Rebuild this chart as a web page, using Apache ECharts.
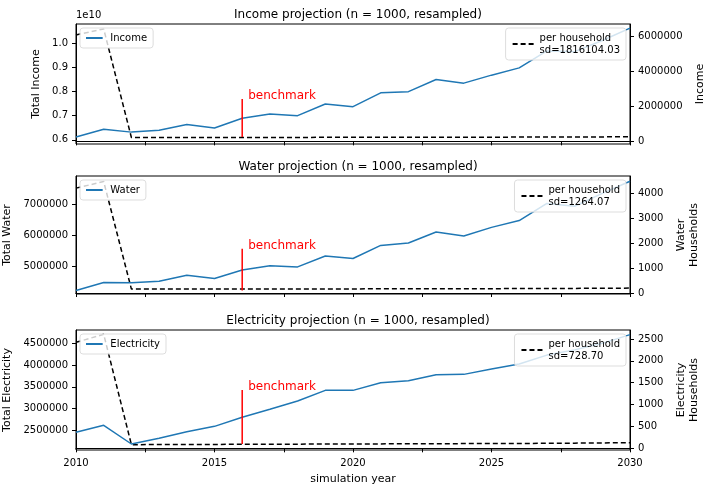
<!DOCTYPE html>
<html>
<head>
<meta charset="UTF-8">
<script src="https://cdn.jsdelivr.net/npm/echarts@6/dist/echarts.min.js"></script>
<style>
  body { margin: 0; background: #fff; }
  #chart { width: 708px; height: 492px; }
</style>
</head>
<body>
<div id="chart"></div>
<script>
var years = [2010, 2011, 2012, 2013, 2014, 2015, 2016, 2017, 2018, 2019, 2020,
  2021, 2022, 2023, 2024, 2025, 2026, 2027, 2028, 2029, 2030];

// totals (income in units of 1e10)
var incomeTotal = [0.612, 0.644, 0.632, 0.640, 0.663, 0.649, 0.689, 0.707, 0.700, 0.748, 0.737,
  0.794, 0.799, 0.849, 0.834, 0.867, 0.897, 0.967, 0.964, 1.01, 1.061];
var waterTotal = [4220000, 4480000, 4470000, 4520000, 4710000, 4610000, 4880000, 5020000, 4980000, 5330000, 5250000,
  5670000, 5750000, 6100000, 5970000, 6250000, 6470000, 7020000, 6930000, 7340000, 7730000];
var elecTotal = [2454000, 2615000, 2186000, 2316000, 2469000, 2592000, 2799000, 2983000, 3174000, 3419000, 3419000,
  3595000, 3641000, 3779000, 3787000, 3909000, 4024000, 4230000, 4350000, 4500000, 4700000];

// per household
var incomeHh = [6060000, 6400000, 220000, 221000, 222000, 223000, 224000, 225000, 226000, 228000, 230000,
  232000, 234000, 236000, 238000, 240000, 242000, 245000, 250000, 255000, 260000];
var waterHh = [4210, 4474, 158, 159, 159, 160, 161, 162, 163, 165, 166,
  168, 170, 172, 174, 176, 178, 182, 186, 192, 197];
var elecHh = [2424, 2607, 84, 86, 88, 90, 92, 94, 96, 98, 100,
  102, 104, 106, 108, 110, 112, 115, 119, 124, 130];

var benchYear = 2016;
var incomeBench = [0.612, 0.769];
var waterBench = [4220000, 5560000];
var elecBench = [2186000, 3427000];

var panels = [
  { title: 'Income projection (n = 1000, resampled)', name: 'Income', total: incomeTotal, hh: incomeHh,
    bench: incomeBench, sd: '1816104.03', top: 24, height: 120,
    lmin: 0.583, lmax: 1.078, lticks: [0.6, 0.7, 0.8, 0.9, 1.0],
    rmin: -150000, rmax: 6680000, rticks: [0, 2000000, 4000000, 6000000] },
  { title: 'Water projection (n = 1000, resampled)', name: 'Water', total: waterTotal, hh: waterHh,
    bench: waterBench, sd: '1264.07', top: 176, height: 118,
    lmin: 4110000, lmax: 7900000, lticks: [5000000, 6000000, 7000000],
    rmin: -39, rmax: 4697, rticks: [0, 1000, 2000, 3000, 4000] },
  { title: 'Electricity projection (n = 1000, resampled)', name: 'Electricity', total: elecTotal, hh: elecHh,
    bench: elecBench, sd: '728.70', top: 330, height: 120,
    lmin: 2048000, lmax: 4807000, lticks: [2500000, 3000000, 3500000, 4000000, 4500000],
    rmin: -38, rmax: 2706, rticks: [0, 500, 1000, 1500, 2000, 2500] }
];

var font = 'DejaVu Sans';
var option = { animation: false, textStyle: { fontFamily: font },
  title: [], grid: [], xAxis: [], yAxis: [], series: [], legend: [] };

panels.forEach(function (p, i) {
  var last = i === panels.length - 1;
  option.title.push({ text: p.title, left: 353, top: p.top - 20, textAlign: 'center',
    textStyle: { fontSize: 12, fontWeight: 'normal', color: '#000', fontFamily: font } });
  option.grid.push({ left: 76, right: 78, top: p.top, height: p.height,
    containLabel: false, outerBoundsMode: 'none',
    show: true, borderColor: '#000', borderWidth: 1, backgroundColor: 'transparent' });
  option.xAxis.push({ type: 'value', gridIndex: i, min: 2010, max: 2030, interval: 2.5,
    name: last ? 'simulation year' : '', nameLocation: 'middle', nameGap: 24,
    nameTextStyle: { fontSize: 11, color: '#000' },
    axisLine: { show: true, lineStyle: { color: '#000' } },
    axisTick: { show: true, length: 4, lineStyle: { color: '#000' } },
    splitLine: { show: false },
    axisLabel: { show: last, fontSize: 10, color: '#000',
      formatter: function (v) { return v % 5 === 0 ? String(v) : ''; } } });
  option.yAxis.push({ type: 'value', gridIndex: i, min: p.lmin, max: p.lmax, position: 'left',
    name: 'Total ' + p.name, nameLocation: 'middle', nameGap: i === 0 ? 30 : 56,
    nameTextStyle: { fontSize: 11, color: '#000' },
    axisLine: { show: true, lineStyle: { color: '#000' } },
    axisTick: { show: true, length: 4, customValues: p.lticks, lineStyle: { color: '#000' } },
    axisLabel: { fontSize: 10, color: '#000', customValues: p.lticks,
      formatter: function (v) { return i === 0 ? v.toFixed(1) : String(Math.round(v)); } },
    splitLine: { show: false } });
  option.yAxis.push({ type: 'value', gridIndex: i, min: p.rmin, max: p.rmax, position: 'right',
    name: p.name + '\nHouseholds', nameLocation: 'middle', nameGap: i === 0 ? 52 : 34,
    nameRotate: 90,
    nameTextStyle: { fontSize: 11, color: '#000', lineHeight: 13 },
    axisLine: { show: true, lineStyle: { color: '#000' } },
    axisTick: { show: true, length: 4, customValues: p.rticks, lineStyle: { color: '#000' } },
    axisLabel: { fontSize: 10, color: '#000', customValues: p.rticks,
      formatter: function (v) { return String(Math.round(v)); } },
    splitLine: { show: false } });

  var xi = i, yl = i * 2, yr = i * 2 + 1;
  var hhName = 'per household\nsd=' + p.sd;
  option.series.push({ name: p.name, type: 'line', xAxisIndex: xi, yAxisIndex: yl,
    data: years.map(function (y, k) { return [y, p.total[k]]; }),
    symbol: 'none', lineStyle: { color: '#1f77b4', width: 1.5 }, itemStyle: { color: '#1f77b4' }, z: 3 });
  option.series.push({ name: hhName, type: 'line', xAxisIndex: xi, yAxisIndex: yr,
    data: years.map(function (y, k) { return [y, p.hh[k]]; }),
    symbol: 'none', lineStyle: { color: '#000', width: 1.5, type: [5, 3] }, itemStyle: { color: '#000' }, z: 2 });
  option.series.push({ name: 'benchmark' + i, type: 'line', xAxisIndex: xi, yAxisIndex: yl,
    data: [[benchYear, p.bench[0]], [benchYear, p.bench[1]]],
    symbol: 'none', lineStyle: { color: 'red', width: 1.5 }, z: 4,
    endLabel: { show: true, formatter: 'benchmark', color: 'red', fontSize: 12,
      fontFamily: font, offset: [-2, -3] } });

  option.legend.push({ data: [p.name], left: 80, top: p.top + 4, orient: 'vertical',
    icon: 'path://M0,0 L1,0 L1,0.12 L0,0.12 Z', itemWidth: 22, itemHeight: 2, itemGap: 2,
    backgroundColor: 'rgba(255,255,255,0.8)', borderColor: '#ddd', borderWidth: 1, borderRadius: 3,
    padding: [5, 6], textStyle: { fontSize: 10, color: '#000' } });
  option.legend.push({ data: [hhName], right: 82, top: p.top + 4, orient: 'vertical',
    itemWidth: 22, itemHeight: 2, itemGap: 2,
    backgroundColor: 'rgba(255,255,255,0.8)', borderColor: '#ddd', borderWidth: 1, borderRadius: 3,
    padding: [4, 6], textStyle: { fontSize: 10, color: '#000', lineHeight: 12 } });
});

option.graphic = [{ type: 'text', left: 76, top: 10,
  style: { text: '1e10', fontSize: 10, fill: '#000', fontFamily: font } }];

var chart = echarts.init(document.getElementById('chart'));
chart.setOption(option);
</script>
</body>
</html>
